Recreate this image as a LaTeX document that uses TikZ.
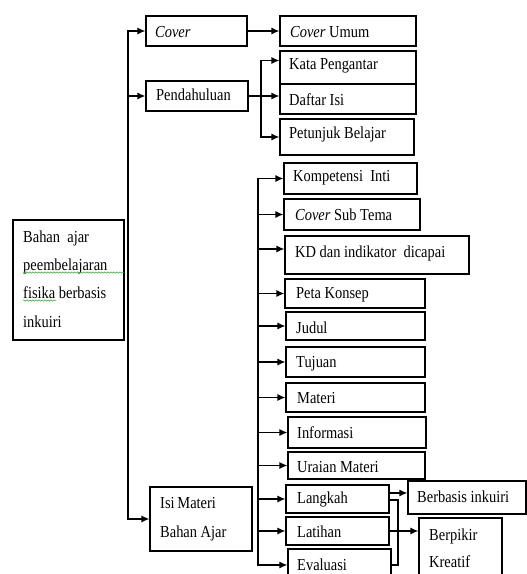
\documentclass[tikz,border=0pt]{standalone}
\usepackage{fontspec}
\setmainfont{Liberation Serif}[FakeStretch=0.86]
\usetikzlibrary{arrows.meta,fit,decorations.pathmorphing}
\tikzset{
  bx/.style={draw=black, line width=1.2pt, inner sep=0pt, fill=white},
  tx/.style={anchor=base west, inner sep=0pt, font=\fontsize{16.8}{19}\selectfont, text=black},
  ln/.style={draw=black, line width=1.2pt, line join=miter},
  arr/.style={ln, -{Latex[length=8pt,width=7pt]}},
  arr2/.style={ln, {Latex[length=8pt,width=7pt]}-{Latex[length=8pt,width=7pt]}},
  wavy/.style={draw=green!55!black!80, line width=0.5pt, decorate, decoration={snake, amplitude=0.7pt, segment length=3pt}}
}
\newcommand{\bxn}[5]{\node[bx, fit={(#2,#3) (#4,#5)}] (#1) {};}
\begin{document}
\begin{tikzpicture}[x=1pt,y=-1pt]
\useasboundingbox (0,0) rectangle (527,574);
\fill[white] (0,0) rectangle (527,574);
\clip (0,0) rectangle (527,574);

% boxes
\bxn{main}{13}{220}{124}{340}
\bxn{cover}{146}{16}{247}{46}
\bxn{pend}{146}{81}{248}{111}
\bxn{isi}{150}{487}{252}{551}
\bxn{coverumum}{280}{16}{416}{46}
\bxn{kata}{280}{51}{416}{84}
\bxn{daftar}{280}{84}{416}{114}
\bxn{pet}{280}{119}{414}{155}
\bxn{komp}{284}{163}{417}{194}
\bxn{coversub}{284}{199}{420}{230}
\bxn{kd}{285}{236}{469}{274}
\bxn{peta}{285}{279}{425}{308}
\bxn{judul}{286}{312}{425}{340}
\bxn{tujuan}{286}{347}{425}{377}
\bxn{materi}{286}{383}{425}{412}
\bxn{info}{288}{417}{426}{448}
\bxn{uraian}{288}{452}{425}{479}
\bxn{langkah}{286}{485}{389}{513}
\bxn{latihan}{286}{517}{389}{545}
\bxn{eval}{288}{549}{391}{581}
\bxn{berbasis}{408}{481}{526}{514}
\bxn{berpikir}{419}{518}{502}{590}

% texts
\node[tx] (mainT1) at (23,242) {Bahan\ \ ajar};
\node[tx] (mainT2) at (23,270) {peembelajaran};
\node[tx] (mainT3) at (23,298) {fisika berbasis};
\node[tx] (mainT4) at (23,327) {inkuiri};
\node[tx] (coverT) at (155,37) {\textit{Cover}};
\node[tx] (pendT) at (156,100) {Pendahuluan};
\node[tx] (isiT1) at (160,508) {Isi\,Materi};
\node[tx] (isiT2) at (160,537) {Bahan Ajar};
\node[tx] (coverumumT) at (290,37) {\textit{Cover} Umum};
\node[tx] (kataT) at (289,69) {Kata Pengantar};
\node[tx] (daftarT) at (289,105) {Daftar Isi};
\node[tx] (petT) at (289,138) {Petunjuk Belajar};
\node[tx] (kompT) at (293,181) {Kompetensi\ \ Inti};
\node[tx] (coversubT) at (295,220) {\textit{Cover} Sub Tema};
\node[tx] (kdT) at (295,257) {KD dan indikator\ \ dicapai};
\node[tx] (petaT) at (296,298) {Peta Konsep};
\node[tx] (judulT) at (296,333) {Judul};
\node[tx] (tujuanT) at (296,367) {Tujuan};
\node[tx] (materiT) at (297,403) {Materi};
\node[tx] (infoT) at (297,438) {Informasi};
\node[tx] (uraianT) at (297,472) {Uraian Materi};
\node[tx] (langkahT) at (297,503) {Langkah};
\node[tx] (latihanT) at (297,537) {Latihan};
\node[tx] (evalT) at (297,570) {Evaluasi};
\node[tx] (berbasisT) at (417,502) {Berbasis inkuiri};
\node[tx] (berpikirT1) at (429,540) {Berpikir};
\node[tx] (berpikirT2) at (429,567) {Kreatif};

% spell-check wavy underlines
\draw[wavy] (23,272.5) -- (124,272.5);
\draw[wavy] (23,300.5) -- (56,300.5);

% trunk coordinates
\coordinate (t1) at (128,300);
\coordinate (t2) at (258,400);
\coordinate (t3) at (261,100);
\coordinate (t4) at (398,530);
\coordinate (katain) at ([yshift=7pt]kata.west);
\coordinate (kdin) at ([yshift=6pt]kd.west);
\coordinate (langout) at ([yshift=6pt]langkah.east);
\coordinate (langout2) at ([yshift=-1pt]langkah.east);

% first-level trunk
\draw[arr2] (cover.west) -| (t1) |- (isi.west);
\draw[arr] (t1 |- pend.west) -- (pend.west);

% cover -> cover umum
\draw[arr] (cover.east) -- (coverumum.west);

% pendahuluan bracket
\draw[arr] (pend.east) -- (pend.east -| daftar.west);
\draw[arr2] (katain) -| (t3) |- (pet.west);

% second trunk
\draw[arr2] (komp.west) -| (t2) |- (eval.west);
\draw[arr] (t2 |- coversub.west) -- (coversub.west);
\draw[arr] (t2 |- kdin) -- (kdin);
\draw[arr] (t2 |- peta.west) -- (peta.west);
\draw[arr] (t2 |- judul.west) -- (judul.west);
\draw[arr] (t2 |- tujuan.west) -- (tujuan.west);
\draw[arr] (t2 |- materi.west) -- (materi.west);
\draw[arr] (t2 |- info.west) -- (info.west);
\draw[arr] (t2 |- uraian.west) -- (uraian.west);
\draw[arr] (t2 |- langkah.west) -- (langkah.west);
\draw[arr] (t2 |- latihan.west) -- (latihan.west);

% langkah / latihan / evaluasi
\draw[arr] (langout) -- (langout -| berbasis.west);
\draw[ln] (langout2) -| (t4) |- (eval.east);
\draw[arr] (latihan.east) -- (latihan.east -| berpikir.west);
\end{tikzpicture}
\end{document}
